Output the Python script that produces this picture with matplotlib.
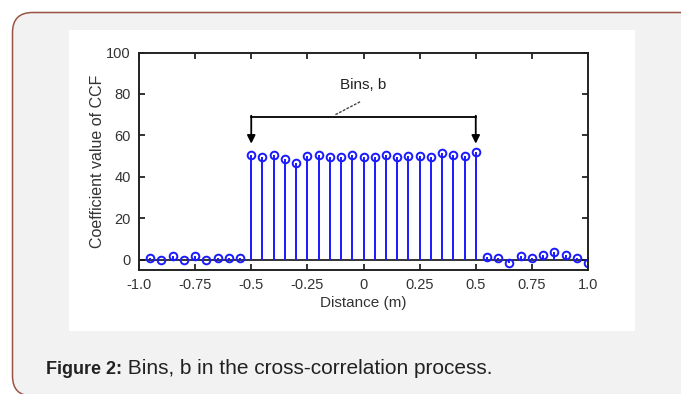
import matplotlib
matplotlib.use('Agg')
import matplotlib.pyplot as plt
from matplotlib.patches import FancyBboxPatch, Rectangle

plt.rcParams['font.family'] = ['Liberation Sans', 'DejaVu Sans']

# distances (m) and CCF coefficient values
dist_left = [-0.95, -0.90, -0.85, -0.80, -0.75, -0.70, -0.65, -0.60, -0.55]
ccf_left = [0.8, 0.0, 1.6, 0.0, 1.6, -0.4, 0.9, 0.9, 0.9]

dist_bins = [-0.50, -0.45, -0.40, -0.35, -0.30, -0.25, -0.20, -0.15, -0.10, -0.05, 0.0,
             0.05, 0.10, 0.15, 0.20, 0.25, 0.30, 0.35, 0.40, 0.45, 0.50]
ccf_bins = [50.4, 49.6, 50.7, 48.8, 46.7, 49.9, 50.7, 49.4, 49.6, 50.7, 49.6,
            49.6, 50.7, 49.6, 50.2, 49.9, 49.6, 51.5, 50.7, 49.9, 51.8]

dist_right = [0.55, 0.60, 0.65, 0.70, 0.75, 0.80, 0.85, 0.90, 0.95, 1.00]
ccf_right = [1.5, 0.8, -1.5, 1.8, 1.0, 2.2, 3.8, 2.4, 1.0, -1.5]

x_ticks = [-1.0, -0.75, -0.5, -0.25, 0, 0.25, 0.5, 0.75, 1.0]
x_labels = ['-1.0', '-0.75', '-0.5', '-0.25', '0', '0.25', '0.5', '0.75', '1.0']
y_ticks = [0, 20, 40, 60, 80, 100]

W, H = 681, 394
fig = plt.figure(figsize=(W / 100, H / 100), dpi=100)
fig.patch.set_facecolor('white')

# page-like background (pixel coordinates)
bg = fig.add_axes([0, 0, 1, 1])
bg.set_xlim(0, W)
bg.set_ylim(H, 0)
bg.axis('off')
bg.add_patch(FancyBboxPatch((12.5, 12.5), 720, 383.5, boxstyle='round,pad=0,rounding_size=20',
                            facecolor='#f2f2f2', edgecolor='#9b5444', linewidth=1.1))
bg.add_patch(Rectangle((69, 30), 566, 301, facecolor='white', edgecolor='none'))

t1 = bg.text(46, 374, 'Figure 2:', fontsize=13, fontweight='bold', color='#222222',
             va='baseline', ha='left')
bg.annotate(' Bins, b in the cross-correlation process.', xy=(1, 0), xycoords=t1,
            xytext=(0, 0), textcoords='offset points',
            va='bottom', ha='left', fontsize=15, color='#222222')

# main chart
ax = fig.add_axes([139 / W, 1 - 270 / H, 449 / W, (270 - 52.5) / H])
ax.set_facecolor('white')

dist_all = dist_left + dist_bins + dist_right
ccf_all = ccf_left + ccf_bins + ccf_right
markerline, stemlines, baseline = ax.stem(dist_all, ccf_all, linefmt='-', markerfmt='o', basefmt=' ')
stemlines.set_color('#1a1aff')
stemlines.set_linewidth(1.4)
markerline.set_markerfacecolor('none')
markerline.set_markeredgecolor('#1a1aff')
markerline.set_markersize(5.5)
markerline.set_markeredgewidth(1.4)
ax.axhline(0, color='#111111', linewidth=1.2, zorder=1)

ax.set_xlim(-1.0, 1.0)
ax.set_ylim(-5, 100)
ax.set_xticks(x_ticks)
ax.set_xticklabels(x_labels)
ax.set_yticks(y_ticks)
ax.tick_params(direction='in', length=4, width=1.2, top=True, right=True,
               labelsize=10.5, labelcolor='#333333', color='#111111', pad=6)
for sp in ax.spines.values():
    sp.set_linewidth(1.4)
    sp.set_color('#222222')

ax.set_xlabel('Distance (m)', fontsize=11, color='#333333', labelpad=3)
ax.set_ylabel('Coefficient value of CCF', fontsize=11.5, color='#333333', labelpad=1)

# bracket annotation for the bins
ax.plot([-0.5, 0.5], [69, 69], color='black', linewidth=1.3)
for xa in [-0.5, 0.5]:
    ax.annotate('', xy=(xa, 56), xytext=(xa, 69.5),
                arrowprops=dict(arrowstyle='-|>', color='black', lw=1.3,
                                mutation_scale=12, shrinkA=0, shrinkB=0))
ax.plot([-0.125, -0.01], [70, 76.5], color='#444444', linewidth=1.0, linestyle=(0, (2, 1)))
ax.text(0.0, 84.5, 'Bins, b', fontsize=11, color='#222222', ha='center', va='center')

fig.savefig('out.png', dpi=100, facecolor=fig.get_facecolor())
